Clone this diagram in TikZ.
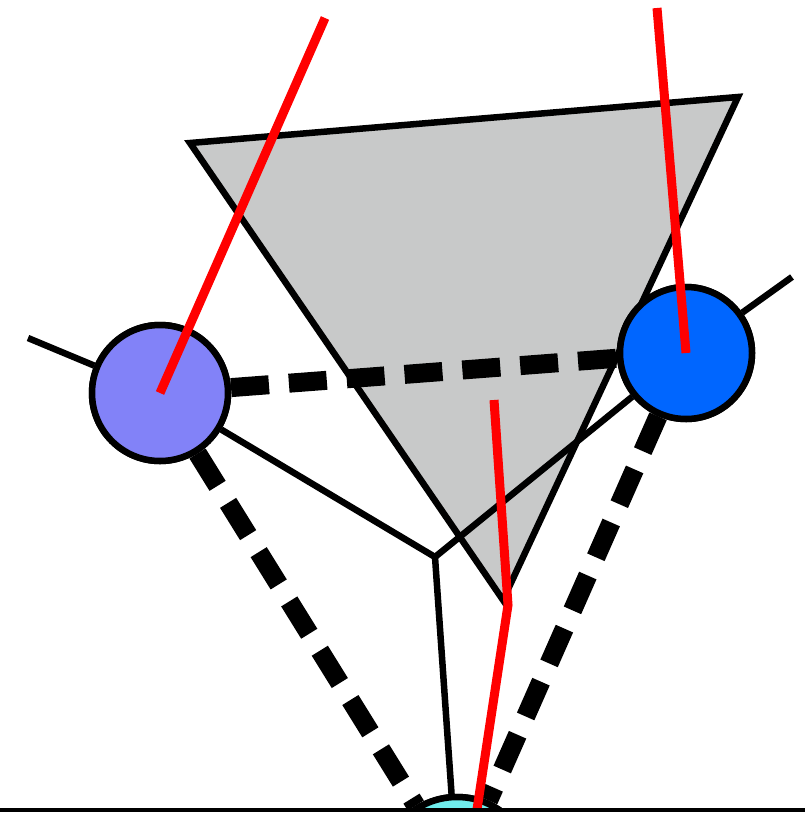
\documentclass[tikz,border=0pt]{standalone}
\usepackage{tikz}
\usetikzlibrary{positioning,calc}

\definecolor{facegray}{RGB}{200,201,201}
\definecolor{atomlilac}{RGB}{130,130,248}
\definecolor{atomblue}{RGB}{0,102,255}
\definecolor{atomcyan}{RGB}{112,238,238}

\tikzset{
  atom/.style={circle,draw=black,line width=6.5pt,inner sep=0pt},
  bond/.style={line width=6.5pt,black},
  hbond/.style={line width=19pt,black,dash pattern=on 38pt off 20pt},
  spin/.style={line width=9pt,red}
}

\begin{document}
\begin{tikzpicture}[x=1pt,y=-1pt]
\useasboundingbox (0,0) rectangle (805,816);
% shaded face
\draw[bond,fill=facegray,line join=miter] (190,143) -- (738,97) -- (503,600) -- cycle;
% atoms (drawn first to get anchors, redrawn on top later)
\path (160,393) node[atom,minimum size=136pt] (la) {}
      (686,353) node[atom,minimum size=132pt] (ra) {}
      (457,872) node[atom,minimum size=150pt] (ba) {};
\coordinate (hub) at (435,557);
\coordinate (lstub) at (28,338);
\coordinate (rstub) at (792,277);
% solid bonds
\draw[bond] (hub) -- (la);
\draw[bond] (hub) -- (ra);
\draw[bond] (hub) -- (ba);
\draw[bond] (lstub) -- (la);
\draw[bond] (rstub) -- (ra);
% dashed bonds
\draw[hbond] (la) -- (ra);
\draw[hbond] (la) -- (ba);
\draw[hbond] (ra) -- (ba);
% atoms on top
\node[atom,fill=atomlilac,minimum size=136pt] at (la) {};
\node[atom,fill=atomblue,minimum size=132pt] at (ra) {};
\node[atom,fill=atomcyan,minimum size=150pt] at (ba) {};
% spin directions
\coordinate (ltip) at (325,18);
\coordinate (rtip) at (657,8);
\coordinate (mtop) at (494,400);
\coordinate (mbend) at (508,605);
\coordinate (mbot) at (476,816);
\draw[spin] (la.center) -- (ltip);
\draw[spin] (ra.center) -- (rtip);
\draw[spin] (mtop) -- (mbend) -- (mbot);
% bottom edge
\fill[white] (0,810) rectangle (805,816);
\draw[line width=4pt] (0,810) -- (805,810);
\end{tikzpicture}
\end{document}
